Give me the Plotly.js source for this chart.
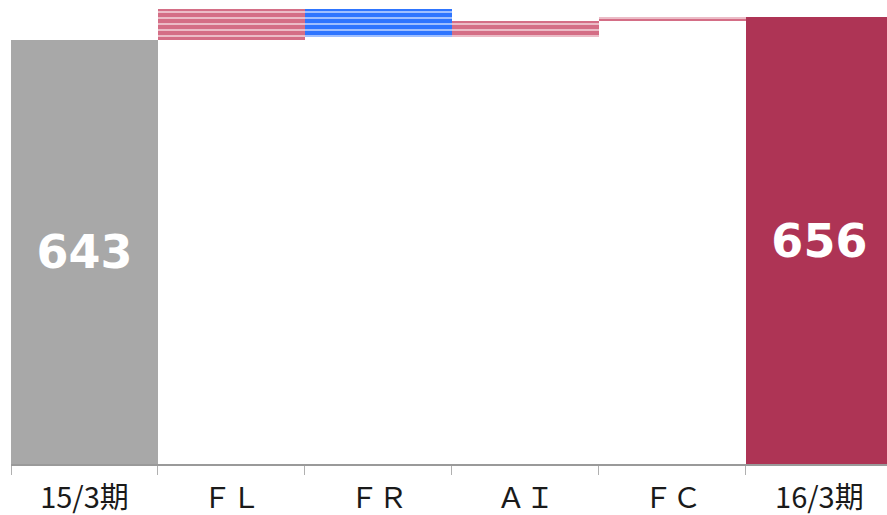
<!DOCTYPE html>
<html>
<head>
<meta charset="utf-8">
<script src="https://cdn.plot.ly/plotly-3.0.1.min.js"></script>
<style>html,body{margin:0;padding:0;background:#fff;}#chart{width:887px;height:515px;}</style>
</head>
<body>
<div id="chart"></div>
<script>
// Data
const categories = ['15/3期', 'ＦＬ', 'ＦＲ', 'ＡＩ', 'ＦＣ', '16/3期'];
const measures = ['absolute', 'relative', 'relative', 'relative', 'relative', 'total'];
const changes = [643, 18, -16, 9, 2, 656];
const labels = ['643', '', '', '', '', '656'];
const yMin = 400, yMax = 666;

// Split waterfall into total bars and step bars
const totX = [], totBase = [], totLen = [], totColor = [], totText = [];
const stepX = [], stepBase = [], stepLen = [], stepColor = [];
let running = 0;
changes.forEach((v, i) => {
  if (measures[i] === 'relative') {
    const start = running;
    running += v;
    stepX.push(categories[i]);
    stepBase.push(Math.min(start, running));
    stepLen.push(Math.abs(v));
    stepColor.push(v >= 0 ? '#D46E86' : '#2E75FF');
  } else {
    running = v;
    totX.push(categories[i]);
    totBase.push(yMin);
    totLen.push(v - yMin);
    totColor.push(i === 0 ? '#A8A8A8' : '#AE3455');
    totText.push(labels[i]);
  }
});

const totals = {
  type: 'bar',
  x: totX, y: totLen, base: totBase,
  text: totText,
  textposition: 'inside',
  insidetextanchor: 'middle',
  textangle: 0,
  constraintext: 'none',
  textfont: {family: 'DejaVu Sans', size: 46, color: '#ffffff', weight: 'bold'},
  marker: {color: totColor, line: {width: 0}},
  hoverinfo: 'none'
};

const steps = {
  type: 'bar',
  x: stepX, y: stepLen, base: stepBase,
  marker: {
    color: '#ffffff',
    line: {width: 0},
    pattern: {shape: '-', fgcolor: stepColor, bgcolor: '#ffffff', size: 6, solidity: 0.82, fillmode: 'replace'}
  },
  hoverinfo: 'none'
};

const layout = {
  width: 887, height: 515,
  margin: {l: 11, r: 0, t: 0, b: 51, pad: 0},
  paper_bgcolor: '#ffffff', plot_bgcolor: '#ffffff',
  bargap: 0,
  barmode: 'overlay',
  showlegend: false,
  xaxis: {
    type: 'category',
    categoryorder: 'array', categoryarray: categories,
    range: [-0.5, 5.46],
    showline: true, linecolor: '#9a9a9a', linewidth: 2,
    ticks: 'outside', tickson: 'boundaries', ticklen: 9, tickcolor: '#b0b0b0', tickwidth: 1,
    showgrid: false, zeroline: false,
    tickfont: {family: 'Noto Sans CJK JP', size: 29, color: '#1a1a1a'},
    ticklabelstandoff: 7
  },
  yaxis: {
    range: [yMin, yMax],
    visible: false, showgrid: false, zeroline: false
  }
};

Plotly.newPlot('chart', [totals, steps], layout, {staticPlot: true, displayModeBar: false});
</script>
</body>
</html>
